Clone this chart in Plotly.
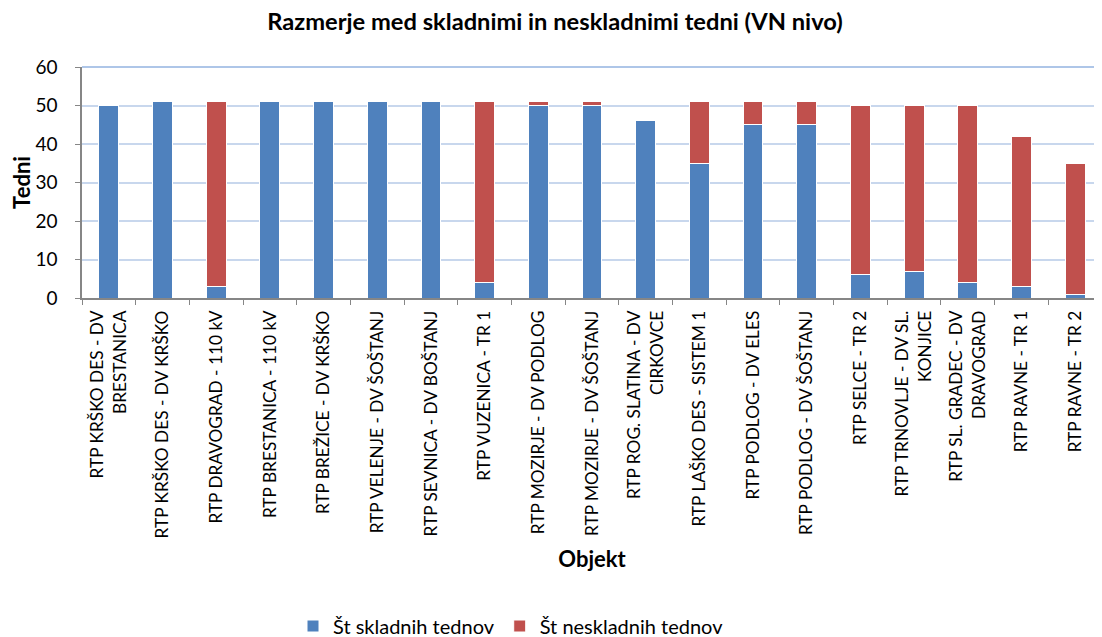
import plotly.graph_objects as go

categories = [
    "RTP KRŠKO DES - DV<br>BRESTANICA",
    "RTP KRŠKO DES - DV KRŠKO",
    "RTP DRAVOGRAD - 110 kV",
    "RTP BRESTANICA - 110 kV",
    "RTP BREŽICE - DV KRŠKO",
    "RTP VELENJE - DV ŠOŠTANJ",
    "RTP SEVNICA - DV BOŠTANJ",
    "RTP VUZENICA - TR 1",
    "RTP MOZIRJE - DV PODLOG",
    "RTP MOZIRJE - DV ŠOŠTANJ",
    "RTP ROG. SLATINA - DV<br>CIRKOVCE",
    "RTP LAŠKO DES - SISTEM 1",
    "RTP PODLOG - DV ELES",
    "RTP PODLOG - DV ŠOŠTANJ",
    "RTP SELCE - TR 2",
    "RTP TRNOVLJE - DV SL.<br>KONJICE",
    "RTP SL. GRADEC - DV<br>DRAVOGRAD",
    "RTP RAVNE - TR 1",
    "RTP RAVNE - TR 2",
]
skladni = [50, 51, 3, 51, 51, 51, 51, 4, 50, 50, 46, 35, 45, 45, 6, 7, 4, 3, 1]
neskladni = [0, 0, 48, 0, 0, 0, 0, 47, 1, 1, 0, 16, 6, 6, 44, 43, 46, 39, 34]

FONT = "Lato, 'Open Sans', sans-serif"
W, H = 1094, 637  # page body has an 8px default margin
L, T = 74, 59
B = H - 290

fig = go.Figure()
fig.add_trace(go.Bar(
    x=categories, y=skladni, name="Št skladnih tednov",
    marker=dict(color="#4f81bd", line=dict(color="white", width=1)),
))
fig.add_trace(go.Bar(
    x=categories, y=neskladni, name="Št neskladnih tednov",
    marker=dict(color="#c0504d", line=dict(color="white", width=1)),
))

fig.update_layout(
    barmode="stack",
    bargap=0.63,
    width=W, height=H,
    paper_bgcolor="white", plot_bgcolor="white",
    font=dict(family=FONT, size=17, color="black"),
    margin=dict(l=L, r=0, t=T, b=B, autoexpand=False),
    title=dict(text="<b>Razmerje med skladnimi in neskladnimi tedni (VN nivo)</b>",
               x=0.5, xanchor="center", y=1 - 14 / H, yanchor="middle",
               font=dict(size=23.7, family=FONT)),
    legend=dict(orientation="h", x=(285 - L) / (W - L), xanchor="left", yref="container",
                y=1 - 618 / H, yanchor="middle",
                font=dict(size=20, family=FONT), traceorder="normal"),
    showlegend=True,
    shapes=[dict(type="line", xref="paper", yref="y domain", x0=0, x1=1, y0=1, y1=1,
                 line=dict(color="#93b3e0", width=1.5), layer="below")],
)
fig.update_yaxes(
    range=[0, 60], dtick=10, showgrid=True, gridcolor="#c8d7ed", gridwidth=1.5,
    showline=True, linecolor="#868686", linewidth=1.5,
    ticks="outside", ticklen=5, tickcolor="#868686",
    tickfont=dict(size=19), ticklabelstandoff=14,
    title=dict(text="<b>Tedni</b>", font=dict(size=22), standoff=14),
    zeroline=False, automargin=False,
)
fig.update_xaxes(
    type="category", tickangle=-90, tickson="boundaries", range=[-0.5, 18.5],
    showline=True, linecolor="#868686", linewidth=1.5,
    ticks="outside", ticklen=5, tickcolor="#868686",
    tickfont=dict(size=17.3), ticklabelstandoff=4,
    title=dict(text="<b>Objekt</b>", font=dict(size=22), standoff=14),
    showgrid=False, automargin=False,
)

fig.write_html("out.html")
